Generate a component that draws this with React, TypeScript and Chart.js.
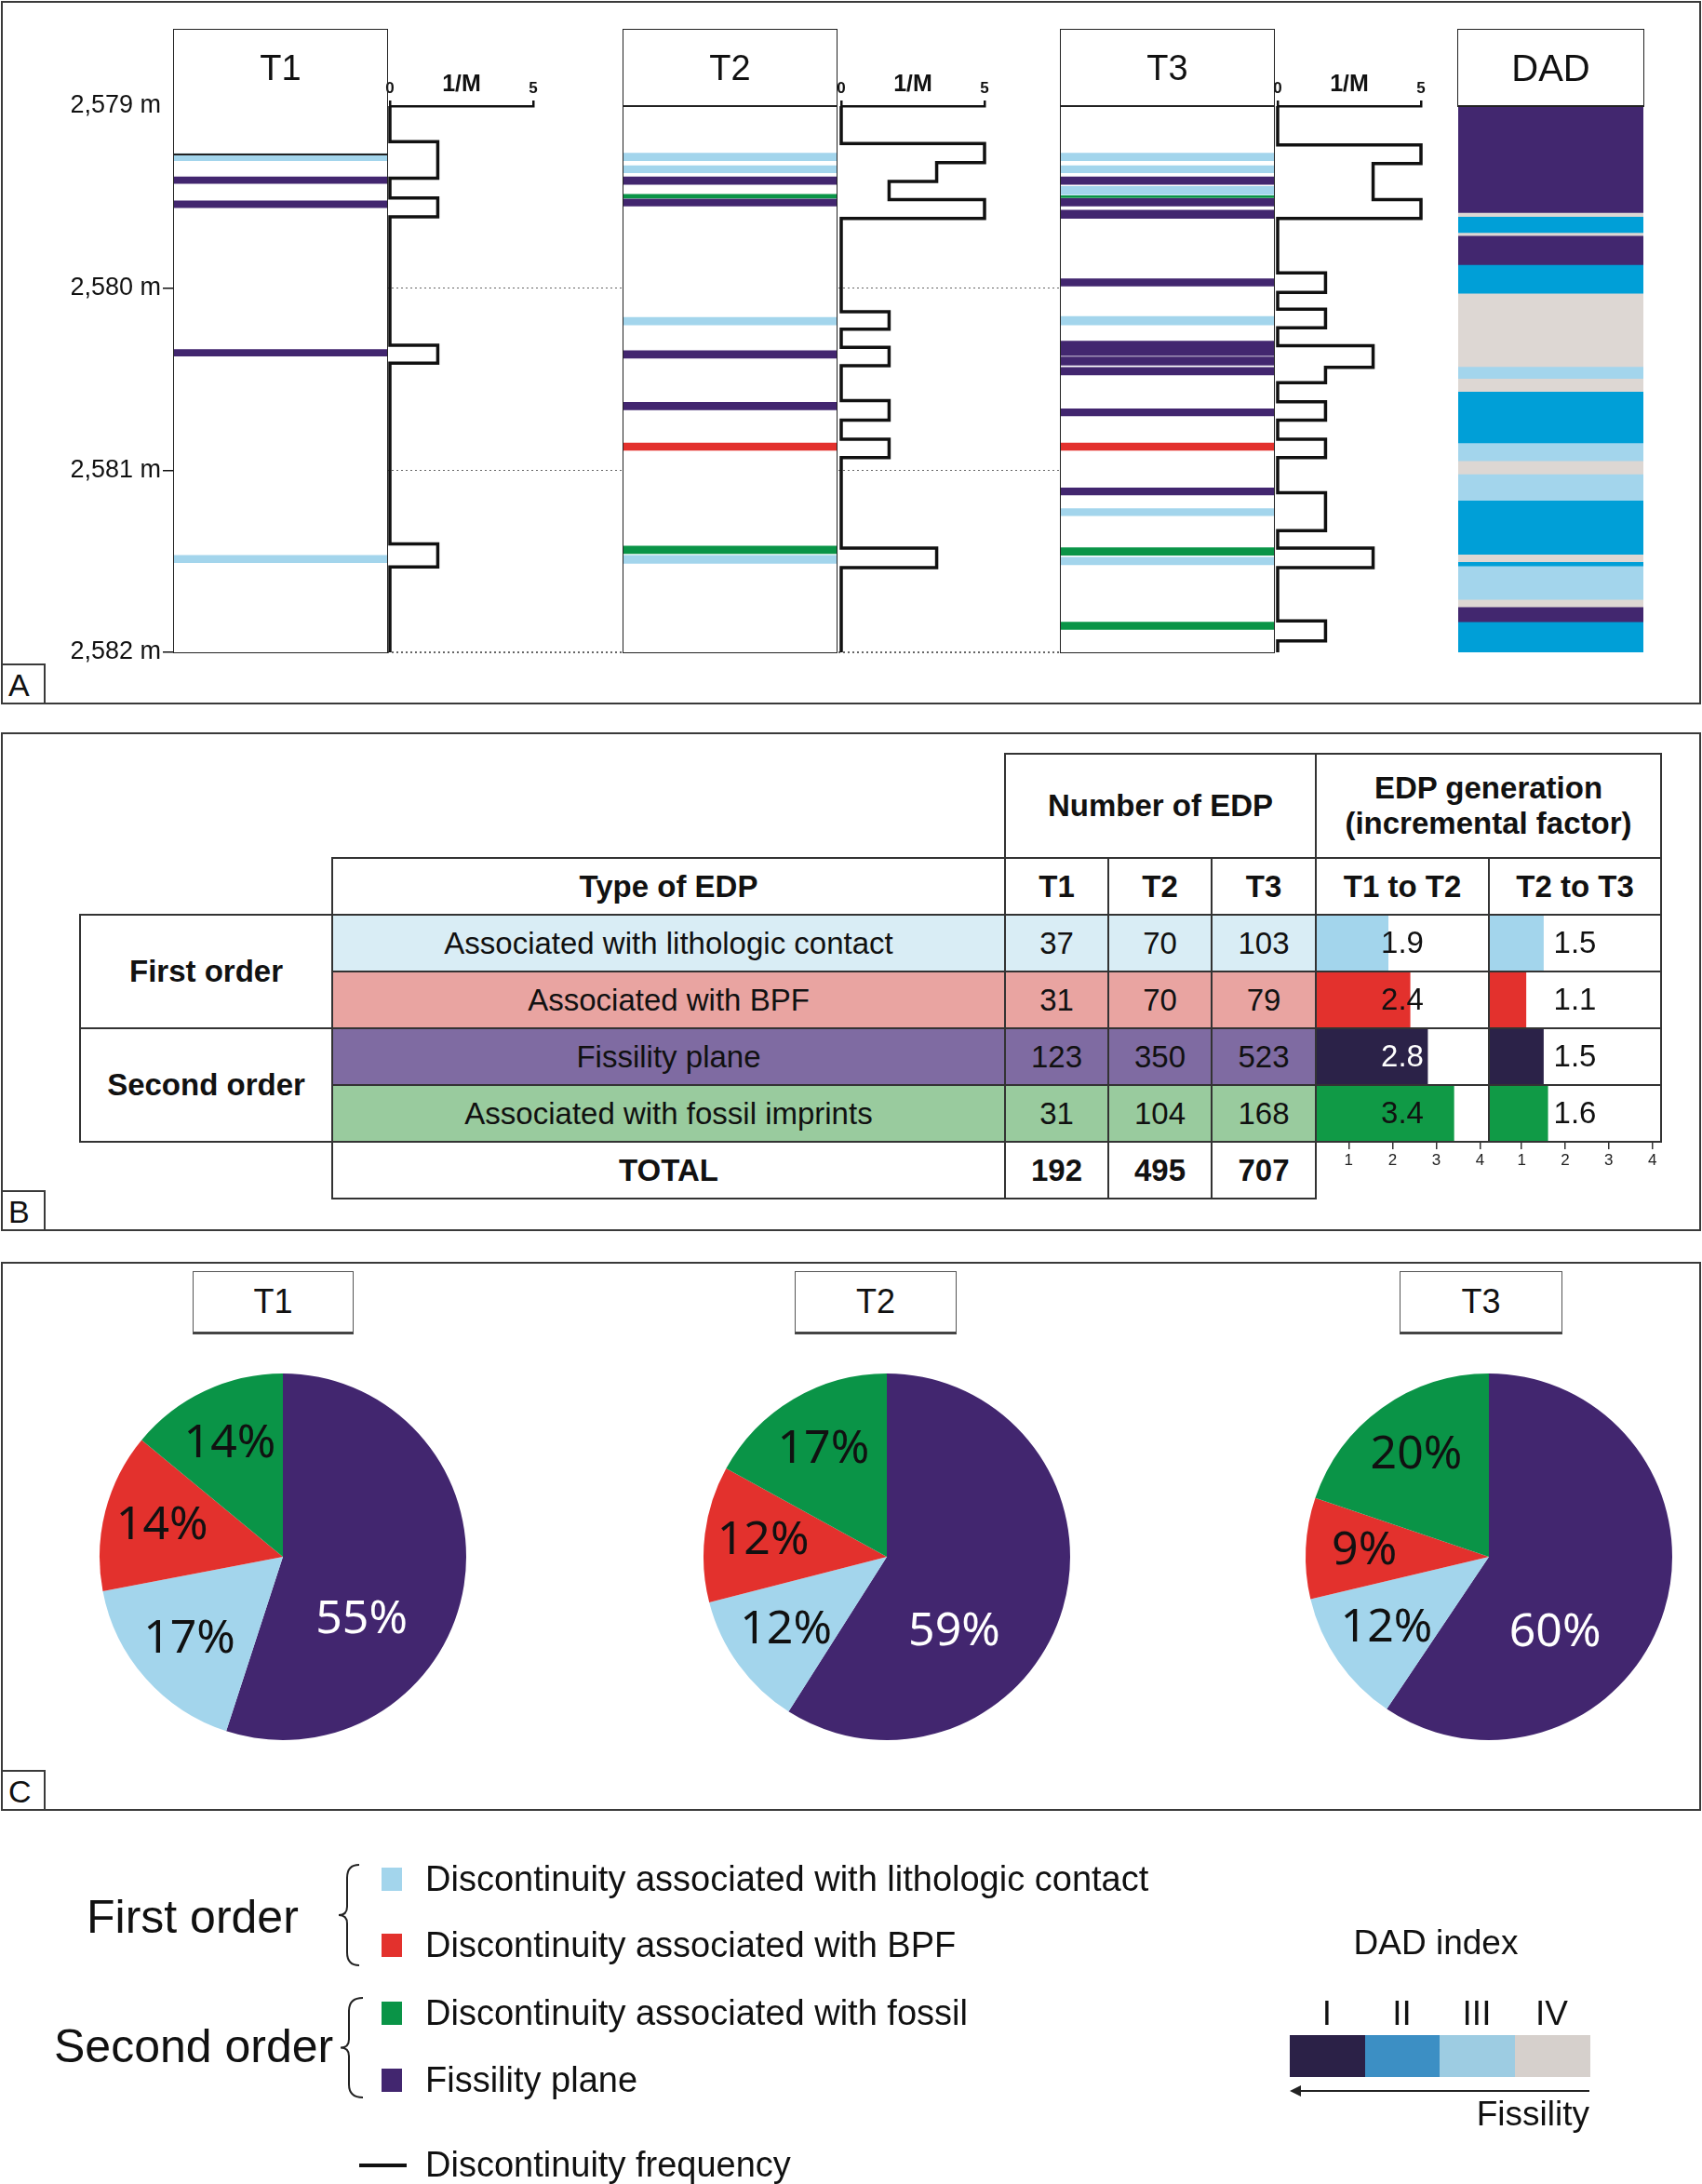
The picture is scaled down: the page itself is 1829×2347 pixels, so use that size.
import React, { useEffect, useRef } from 'react';
import { Chart, registerables } from 'chart.js';
Chart.register(...registerables);

const FONT = "'Liberation Sans', Arial, Helvetica, sans-serif";
const PIE_FONT = "'Noto Sans', 'Open Sans', sans-serif";
Chart.defaults.font.family = FONT;

// ---------------- DATA ----------------
const depthMin = 2579;
const depthMax = 2582;

const bandColors: any = { L: '#a3d5ec', B: '#e3312d', F: '#42266f', O: '#0a9447' };

const t1BandTop = [2579.261, 2579.389, 2579.521, 2580.337, 2581.467];
const t1BandBase = [2579.3, 2579.425, 2579.558, 2580.373, 2581.508];
const t1BandType = ['L', 'F', 'F', 'F', 'L'];

const t2BandTop = [2579.259, 2579.327, 2579.389, 2579.485, 2579.51, 2580.161, 2580.343, 2580.627, 2580.85, 2581.417, 2581.467];
const t2BandBase = [2579.3, 2579.366, 2579.43, 2579.505, 2579.549, 2580.202, 2580.384, 2580.668, 2580.891, 2581.458, 2581.512];
const t2BandType = ['L', 'L', 'F', 'O', 'F', 'L', 'F', 'F', 'B', 'O', 'L'];

const t3BandTop = [2579.259, 2579.327, 2579.389, 2579.441, 2579.492, 2579.508, 2579.572, 2579.948, 2580.156, 2580.291, 2580.378, 2580.435, 2580.663, 2580.85, 2581.097, 2581.211, 2581.426, 2581.478, 2581.834];
const t3BandBase = [2579.3, 2579.366, 2579.43, 2579.487, 2579.503, 2579.549, 2579.617, 2579.989, 2580.202, 2580.371, 2580.423, 2580.476, 2580.702, 2580.891, 2581.136, 2581.25, 2581.467, 2581.519, 2581.875];
const t3BandType = ['L', 'L', 'F', 'L', 'O', 'F', 'F', 'F', 'L', 'F', 'F', 'F', 'F', 'B', 'F', 'L', 'O', 'L', 'O'];

// discontinuity frequency (1/m), value holds from the depth downward
const t1FreqDepth = [2579.0, 2579.195, 2579.396, 2579.505, 2579.608, 2580.314, 2580.412, 2581.405, 2581.531, 2582.0];
const t1FreqValue = [0, 1.67, 0, 1.67, 0, 1.67, 0, 1.67, 0, 0];
const t2FreqDepth = [2579.0, 2579.206, 2579.311, 2579.414, 2579.514, 2579.617, 2580.129, 2580.225, 2580.325, 2580.426, 2580.617, 2580.725, 2580.83, 2580.93, 2581.428, 2581.535, 2582.0];
const t2FreqValue = [0, 5, 3.33, 1.67, 5, 0, 1.67, 0, 1.67, 0, 1.67, 0, 1.67, 0, 3.33, 0, 0];
const t3FreqDepth = [2579.0, 2579.213, 2579.316, 2579.514, 2579.617, 2579.916, 2580.024, 2580.115, 2580.218, 2580.316, 2580.435, 2580.519, 2580.624, 2580.725, 2580.83, 2580.93, 2581.124, 2581.332, 2581.428, 2581.535, 2581.828, 2581.937, 2582.0];
const t3FreqValue = [0, 5, 3.33, 5, 0, 1.67, 0, 1.67, 0, 3.33, 1.67, 0, 1.67, 0, 1.67, 0, 1.67, 0, 3.33, 0, 1.67, 0, 0];

// DAD index column
const dadTop = [2579.0, 2579.585, 2579.606, 2579.695, 2579.711, 2579.871, 2580.028, 2580.43, 2580.496, 2580.567, 2580.85, 2580.948, 2581.021, 2581.165, 2581.462, 2581.503, 2581.526, 2581.709, 2581.75, 2581.832];
const dadClass = ['I', 'IV', 'II', 'IV', 'I', 'II', 'IV', 'III', 'IV', 'II', 'III', 'IV', 'III', 'II', 'IV', 'II', 'III', 'IV', 'I', 'II'];
const dadColumnColors: any = { I: '#42276f', II: '#009fd7', III: '#a3d5ec', IV: '#ddd7d3' };

// table
const edpTypes = ['Associated with lithologic contact', 'Associated with BPF', 'Fissility plane', 'Associated with fossil imprints'];
const countT1 = [37, 31, 123, 31];
const countT2 = [70, 70, 350, 104];
const countT3 = [103, 79, 523, 168];
const totals = [192, 495, 707];
const incT1toT2 = [1.9, 2.4, 2.8, 3.4];
const incT2toT3 = [1.5, 1.1, 1.5, 1.6];
const incTicks = [1, 2, 3, 4];

// pies: fissility, lithologic contact, BPF, fossil
const pieT1 = [55, 17, 14, 14];
const pieT2 = [59, 12, 12, 17];
const pieT3 = [60, 12, 9, 20];

// ---------------- STYLE / LAYOUT ----------------
const rowBg = ['#d9edf5', '#e9a4a1', '#7f6ba2', '#99cb9e'];
const incBarColors = ['#a3d5ec', '#e3312d', '#2b2248', '#109a46'];
const pieColors = ['#42266f', '#a3d5ec', '#e3312d', '#0a9447'];
const TABLE_FONT = 33;

const DY0 = 114; // pixel of depthMin
const DY1 = 701; // pixel of depthMax
const yOfDepth = (d: number) => DY0 + ((d - depthMin) * (DY1 - DY0)) / (depthMax - depthMin);

function CanvasChart({ left, top, width, height, config }: any) {
  const ref = useRef<HTMLCanvasElement | null>(null);
  useEffect(() => {
    const c = new Chart(ref.current as HTMLCanvasElement, config);
    return () => c.destroy();
  }, []);
  return (
    <canvas
      ref={ref}
      width={width}
      height={height}
      style={{ position: 'absolute', left, top, width, height, display: 'block' }}
    />
  );
}

const baseOpts = {
  animation: false,
  responsive: false,
  events: [],
  plugins: { legend: { display: false }, tooltip: { enabled: false } },
};

function stripConfig(tops: number[], bases: number[], types: string[], withAxis: boolean) {
  const y: any = {
    type: 'linear',
    min: depthMin,
    max: depthMax,
    reverse: true,
    display: withAxis,
  };
  if (withAxis) {
    Object.assign(y, {
      afterFit: (s: any) => {
        s.width = 110;
      },
      ticks: {
        stepSize: 1,
        padding: 2,
        color: '#111',
        font: { size: 27 },
        callback: (v: any) => `${Math.floor(v / 1000)},${String(v % 1000).padStart(3, '0')} m`,
      },
      grid: {
        drawOnChartArea: false,
        drawTicks: true,
        tickLength: 12,
        lineWidth: 1.5,
        color: (c: any) => (c.tick && c.tick.value === depthMin ? 'rgba(0,0,0,0)' : '#111'),
      },
      border: { display: false },
    });
  }
  return {
    type: 'bar',
    data: {
      labels: [''],
      datasets: tops.map((t, i) => ({
        data: [[t, bases[i]]],
        backgroundColor: bandColors[types[i]],
        borderWidth: 0,
        barPercentage: 1,
        categoryPercentage: 1,
        grouped: false,
      })),
    },
    options: {
      ...baseOpts,
      layout: { padding: withAxis ? { top: 20, bottom: 20, left: 0, right: 0 } : 0 },
      scales: {
        x: { display: false },
        y,
      },
    },
  };
}

function freqConfig(depths: number[], values: number[]) {
  return {
    type: 'scatter',
    data: {
      datasets: [
        {
          data: depths.map((d, i) => ({ x: values[i], y: d })),
          showLine: true,
          stepped: 'after',
          borderColor: '#111',
          borderWidth: 3.5,
          pointRadius: 0,
          fill: false,
          clip: false,
          borderJoinStyle: 'miter',
        },
      ],
    },
    options: {
      ...baseOpts,
      layout: { padding: { left: 15, right: 15, top: 0, bottom: 10 } },
      scales: {
        x: {
          type: 'linear',
          position: 'top',
          min: 0,
          max: 5,
          afterBuildTicks: (s: any) => {
            s.ticks = [0, 2.5, 5].map((v) => ({ value: v }));
          },
          afterFit: (s: any) => {
            s.height = 34;
          },
          ticks: {
            padding: 2,
            color: '#111',
            maxRotation: 0,
            autoSkip: false,
            callback: (v: any) => (v === 2.5 ? '1/M' : String(v)),
            font: (c: any) =>
              c.tick && c.tick.value === 2.5
                ? { size: 25, weight: 'bold', family: FONT }
                : { size: 17, weight: 'bold', family: FONT },
          },
          grid: {
            drawOnChartArea: false,
            drawTicks: true,
            tickLength: 6,
            lineWidth: 2.5,
            color: (c: any) => (c.tick && c.tick.value === 2.5 ? 'rgba(0,0,0,0)' : '#111'),
          },
          border: { display: true, color: '#111', width: 2.5 },
        },
        y: { type: 'linear', min: depthMin, max: depthMax, reverse: true, display: false },
      },
    },
  };
}

function dadConfig() {
  return {
    type: 'bar',
    data: {
      labels: [''],
      datasets: dadTop.map((t, i) => ({
        data: [[t, i < dadTop.length - 1 ? dadTop[i + 1] : depthMax]],
        backgroundColor: dadColumnColors[dadClass[i]],
        borderWidth: 0,
        barPercentage: 1,
        categoryPercentage: 1,
        grouped: false,
      })),
    },
    options: {
      ...baseOpts,
      scales: {
        x: { display: false },
        y: { type: 'linear', min: depthMin, max: depthMax, reverse: true, display: false },
      },
    },
  };
}

const barValuePlugin = {
  id: 'barValues',
  afterDatasetsDraw(chart: any) {
    const { ctx, chartArea } = chart;
    const meta = chart.getDatasetMeta(0);
    const vals = chart.data.datasets[0].data;
    const cx = (chartArea.left + chartArea.right) / 2;
    ctx.save();
    ctx.font = `${TABLE_FONT}px ${FONT}`;
    ctx.textAlign = 'center';
    ctx.textBaseline = 'middle';
    meta.data.forEach((bar: any, i: number) => {
      const dark = i === 2;
      ctx.fillStyle = dark && bar.x > cx ? '#fff' : '#111';
      ctx.fillText(Number(vals[i]).toFixed(1), cx, bar.y + 1);
    });
    ctx.restore();
  },
};

function incConfig(values: number[]) {
  return {
    type: 'bar',
    data: {
      labels: edpTypes,
      datasets: [
        {
          data: values,
          backgroundColor: incBarColors,
          borderWidth: 0,
          barPercentage: 1,
          categoryPercentage: 1,
        },
      ],
    },
    options: {
      ...baseOpts,
      indexAxis: 'y',
      layout: { padding: 0 },
      scales: {
        y: { display: false },
        x: {
          type: 'linear',
          min: 0.25,
          max: 4.2,
          position: 'bottom',
          afterBuildTicks: (s: any) => {
            s.ticks = incTicks.map((v) => ({ value: v }));
          },
          afterFit: (s: any) => {
            s.height = 40;
          },
          ticks: { padding: 2, color: '#222', font: { size: 17 }, maxRotation: 0 },
          grid: { drawOnChartArea: false, drawTicks: true, tickLength: 8, lineWidth: 1.5, color: '#333' },
          border: { display: false },
        },
      },
    },
    plugins: [barValuePlugin],
  };
}

const pieLabelPlugin = {
  id: 'pieLabels',
  afterDatasetsDraw(chart: any) {
    const ctx = chart.ctx;
    const meta = chart.getDatasetMeta(0);
    const vals = chart.data.datasets[0].data;
    ctx.save();
    ctx.font = `50px ${PIE_FONT}`;
    ctx.textAlign = 'center';
    ctx.textBaseline = 'middle';
    meta.data.forEach((arc: any, i: number) => {
      const p = arc.getProps(['x', 'y', 'startAngle', 'endAngle', 'outerRadius'], true);
      const big = vals[i] > 50;
      const a = p.startAngle + (p.endAngle - p.startAngle) * (big ? 0.65 : 0.5);
      const r = p.outerRadius * (big ? 0.55 : 0.68);
      ctx.fillStyle = i === 0 ? '#fff' : '#111';
      ctx.fillText(`${vals[i]}%`, p.x + Math.cos(a) * r, p.y + Math.sin(a) * r);
    });
    ctx.restore();
  },
};

function pieConfig(values: number[]) {
  return {
    type: 'pie',
    data: {
      labels: ['Fissility plane', 'Lithologic contact', 'BPF', 'Fossil imprints'],
      datasets: [{ data: values, backgroundColor: pieColors, borderWidth: 0 }],
    },
    options: { ...baseOpts, layout: { padding: 2 } },
    plugins: [pieLabelPlugin],
  };
}

// ---------------- HTML helpers ----------------
const Box = ({ l, t, w, h, style, children }: any) => (
  <div style={{ position: 'absolute', left: l, top: t, width: w, height: h, boxSizing: 'border-box', ...style }}>
    {children}
  </div>
);

const Txt = ({ x, y, text, size, weight = 'normal', align = 'left', color = '#111', family = FONT, w = 1000 }: any) => {
  const left = align === 'left' ? x : align === 'center' ? x - w / 2 : x - w;
  return (
    <div
      style={{
        position: 'absolute',
        left,
        top: y - size,
        width: w,
        height: size * 2,
        lineHeight: `${size * 2}px`,
        fontSize: size,
        fontWeight: weight,
        textAlign: align,
        color,
        fontFamily: family,
        whiteSpace: 'nowrap',
      }}
    >
      {text}
    </div>
  );
};

const Cell = ({ x1, y1, x2, y2, bg = '#fff', children, size = TABLE_FONT, bold = false, color = '#111' }: any) => (
  <div
    style={{
      position: 'absolute',
      left: x1 - 1,
      top: y1 - 1,
      width: x2 - x1 + 2,
      height: y2 - y1 + 2,
      boxSizing: 'border-box',
      border: '2px solid #333',
      background: bg,
      display: 'flex',
      flexDirection: 'column',
      alignItems: 'center',
      justifyContent: 'center',
      fontSize: size,
      fontWeight: bold ? 'bold' : 'normal',
      color,
      fontFamily: FONT,
      lineHeight: 1.15,
      textAlign: 'center',
      whiteSpace: 'nowrap',
    }}
  >
    {children}
  </div>
);

const Frame = ({ l, t, w, h, letter }: any) => (
  <>
    <Box l={l} t={t} w={w} h={h} style={{ border: '2px solid #3a3a3a' }} />
    <Box
      l={l}
      t={t + h - 44}
      w={48}
      h={44}
      style={{
        border: '2px solid #3a3a3a',
        fontFamily: FONT,
        fontSize: 34,
        lineHeight: '42px',
        paddingLeft: 6,
        color: '#111',
      }}
    >
      {letter}
    </Box>
  </>
);

const ColumnBox = ({ x1, x2, top, headerBottom, bottom, label, size = 38 }: any) => (
  <>
    <Box l={x1 - 1} t={top - 1} w={x2 - x1 + 2} h={(bottom ?? headerBottom) - top + 2} style={{ border: '1.5px solid #222' }} />
    <Box l={x1} t={headerBottom - 1} w={x2 - x1} h={1.5} style={{ background: '#222' }} />
    <Txt x={(x1 + x2) / 2} y={73} text={label} size={size} align="center" w={x2 - x1} />
  </>
);

function brace(xTip: number, xEnd: number, y1: number, y2: number) {
  const m = (y1 + y2) / 2;
  const xs = xTip + 9;
  return `M ${xEnd} ${y1} Q ${xs} ${y1} ${xs} ${y1 + 14} L ${xs} ${m - 9} Q ${xs} ${m} ${xTip} ${m} Q ${xs} ${m} ${xs} ${m + 9} L ${xs} ${y2 - 14} Q ${xs} ${y2} ${xEnd} ${y2}`;
}

export default function App() {
  // table geometry
  const C = [86, 357, 1080, 1191, 1302, 1414, 1600, 1785];
  const R = [810, 922, 983, 1044, 1105, 1166, 1227, 1288];
  const counts = [countT1, countT2, countT3];

  const legendItems = [
    { c: '#a3d5ec', t: 'Discontinuity associated with lithologic contact', y: 2019 },
    { c: '#e3312d', t: 'Discontinuity associated with BPF', y: 2090 },
    { c: '#0a9447', t: 'Discontinuity associated with fossil', y: 2163 },
    { c: '#42266f', t: 'Fissility plane', y: 2235 },
  ];
  const dadLegendColors = ['#2b2147', '#3c8fc4', '#9dcce2', '#d6d0cc'];
  const dadLegendLabels = ['I', 'II', 'III', 'IV'];

  return (
    <div
      style={{
        position: 'absolute',
        left: 0,
        top: 0,
        width: 1829,
        height: 2347,
        background: '#fff',
        overflow: 'hidden',
        fontFamily: FONT,
        color: '#111',
      }}
    >
      {/* ---------- Panel frames ---------- */}
      <Frame l={1} t={1} w={1827} h={756} letter="A" />
      <Frame l={1} t={787} w={1827} h={536} letter="B" />
      <Frame l={1} t={1356} w={1827} h={590} letter="C" />

      {/* ---------- Panel A ---------- */}
      {[2580, 2581, 2582].map((d) => (
        <Box
          key={d}
          l={416}
          t={yOfDepth(d) - 0.75}
          w={724}
          h={1.5}
          style={{ backgroundImage: 'repeating-linear-gradient(to right, #666 0 2px, transparent 2px 5px)' }}
        />
      ))}
      <Box l={187} t={32} w={229} h={669} style={{ background: '#fff' }} />
      <Box l={670} t={32} w={229} h={669} style={{ background: '#fff' }} />
      <Box l={1140} t={32} w={229} h={669} style={{ background: '#fff' }} />

      <CanvasChart left={77} top={94} width={339} height={627} config={stripConfig(t1BandTop, t1BandBase, t1BandType, true)} />
      <CanvasChart left={670} top={DY0} width={229} height={DY1 - DY0} config={stripConfig(t2BandTop, t2BandBase, t2BandType, false)} />
      <CanvasChart left={1140} top={DY0} width={229} height={DY1 - DY0} config={stripConfig(t3BandTop, t3BandBase, t3BandType, false)} />
      <CanvasChart left={1567} top={DY0} width={199} height={DY1 - DY0} config={dadConfig()} />

      <CanvasChart left={404} top={DY0 - 34} width={184} height={DY1 - DY0 + 44} config={freqConfig(t1FreqDepth, t1FreqValue)} />
      <CanvasChart left={889} top={DY0 - 34} width={184} height={DY1 - DY0 + 44} config={freqConfig(t2FreqDepth, t2FreqValue)} />
      <CanvasChart left={1358} top={DY0 - 34} width={184} height={DY1 - DY0 + 44} config={freqConfig(t3FreqDepth, t3FreqValue)} />

      <ColumnBox x1={187} x2={416} top={32} headerBottom={166} bottom={701} label="T1" />
      <ColumnBox x1={670} x2={899} top={32} headerBottom={114} bottom={701} label="T2" />
      <ColumnBox x1={1140} x2={1369} top={32} headerBottom={114} bottom={701} label="T3" />
      <ColumnBox x1={1567} x2={1766} top={32} headerBottom={114} label="DAD" size={40} />

      {/* ---------- Panel B : table ---------- */}
      <Cell x1={C[2]} y1={R[0]} x2={C[5]} y2={R[1]} bold>
        Number of EDP
      </Cell>
      <Cell x1={C[5]} y1={R[0]} x2={C[7]} y2={R[1]} bold>
        <div>EDP generation</div>
        <div>(incremental factor)</div>
      </Cell>
      <Cell x1={C[1]} y1={R[1]} x2={C[2]} y2={R[2]} bold>
        Type of EDP
      </Cell>
      {['T1', 'T2', 'T3', 'T1 to T2', 'T2 to T3'].map((h, i) => (
        <Cell key={h} x1={C[2 + i]} y1={R[1]} x2={C[3 + i]} y2={R[2]} bold>
          {h}
        </Cell>
      ))}
      <Cell x1={C[0]} y1={R[2]} x2={C[1]} y2={R[4]} bold>
        First order
      </Cell>
      <Cell x1={C[0]} y1={R[4]} x2={C[1]} y2={R[6]} bold>
        Second order
      </Cell>
      {edpTypes.map((t, r) => (
        <React.Fragment key={t}>
          <Cell x1={C[1]} y1={R[2 + r]} x2={C[2]} y2={R[3 + r]} bg={rowBg[r]}>
            {t}
          </Cell>
          {counts.map((arr, k) => (
            <Cell key={k} x1={C[2 + k]} y1={R[2 + r]} x2={C[3 + k]} y2={R[3 + r]} bg={rowBg[r]}>
              {arr[r]}
            </Cell>
          ))}
        </React.Fragment>
      ))}
      <Cell x1={C[1]} y1={R[6]} x2={C[2]} y2={R[7]} bold>
        TOTAL
      </Cell>
      {totals.map((v, k) => (
        <Cell key={k} x1={C[2 + k]} y1={R[6]} x2={C[3 + k]} y2={R[7]} bold>
          {v}
        </Cell>
      ))}

      <CanvasChart left={C[5]} top={R[2]} width={C[6] - C[5]} height={R[6] - R[2] + 40} config={incConfig(incT1toT2)} />
      <CanvasChart left={C[6]} top={R[2]} width={C[7] - C[6]} height={R[6] - R[2] + 40} config={incConfig(incT2toT3)} />
      {[0, 1, 2, 3].map((r) =>
        [5, 6].map((c) => (
          <Cell key={`${r}-${c}`} x1={C[c]} y1={R[2 + r]} x2={C[c + 1]} y2={R[3 + r]} bg="transparent" />
        ))
      )}

      {/* ---------- Panel C : pies ---------- */}
      {[
        { l: 207, r: 380, t: 'T1' },
        { l: 854, r: 1028, t: 'T2' },
        { l: 1504, r: 1679, t: 'T3' },
      ].map((b) => (
        <Box
          key={b.t}
          l={b.l}
          t={1366}
          w={b.r - b.l}
          h={68}
          style={{
            border: '1.5px solid #555',
            borderBottom: '3px solid #444',
            textAlign: 'center',
            fontSize: 36,
            lineHeight: '63px',
            fontFamily: FONT,
          }}
        >
          {b.t}
        </Box>
      ))}
      <CanvasChart left={105} top={1474} width={398} height={398} config={pieConfig(pieT1)} />
      <CanvasChart left={754} top={1474} width={398} height={398} config={pieConfig(pieT2)} />
      <CanvasChart left={1401} top={1474} width={398} height={398} config={pieConfig(pieT3)} />

      {/* ---------- Legend ---------- */}
      <Txt x={93} y={2060} text="First order" size={50} />
      <Txt x={58} y={2199} text="Second order" size={50} />
      <svg width={1829} height={2347} style={{ position: 'absolute', left: 0, top: 0, pointerEvents: 'none' }}>
        <path d={brace(364, 386, 2004, 2112)} fill="none" stroke="#222" strokeWidth={2} />
        <path d={brace(366, 390, 2147, 2254)} fill="none" stroke="#222" strokeWidth={2} />
        <line x1={1394} y1={2247} x2={1708} y2={2247} stroke="#222" strokeWidth={2} />
        <path d="M 1386 2247 L 1398 2241 L 1398 2253 Z" fill="#222" />
      </svg>
      {legendItems.map((it) => (
        <React.Fragment key={it.t}>
          <Box l={410} t={it.y - 12} w={22} h={25} style={{ background: it.c }} />
          <Txt x={457} y={it.y} text={it.t} size={38} />
        </React.Fragment>
      ))}
      <Box l={386} t={2325} w={51} h={4} style={{ background: '#111' }} />
      <Txt x={457} y={2326} text="Discontinuity frequency" size={38} />

      <Txt x={1543} y={2088} text="DAD index" size={37} align="center" w={300} />
      {dadLegendLabels.map((lab, i) => (
        <React.Fragment key={lab}>
          <Txt x={1386 + 80.5 * i + 40} y={2164} text={lab} size={37} align="center" w={80} />
          <Box l={1386 + 80.5 * i} t={2187} w={81} h={45} style={{ background: dadLegendColors[i] }} />
        </React.Fragment>
      ))}
      <Txt x={1708} y={2272} text="Fissility" size={37} align="right" w={300} />
    </div>
  );
}
